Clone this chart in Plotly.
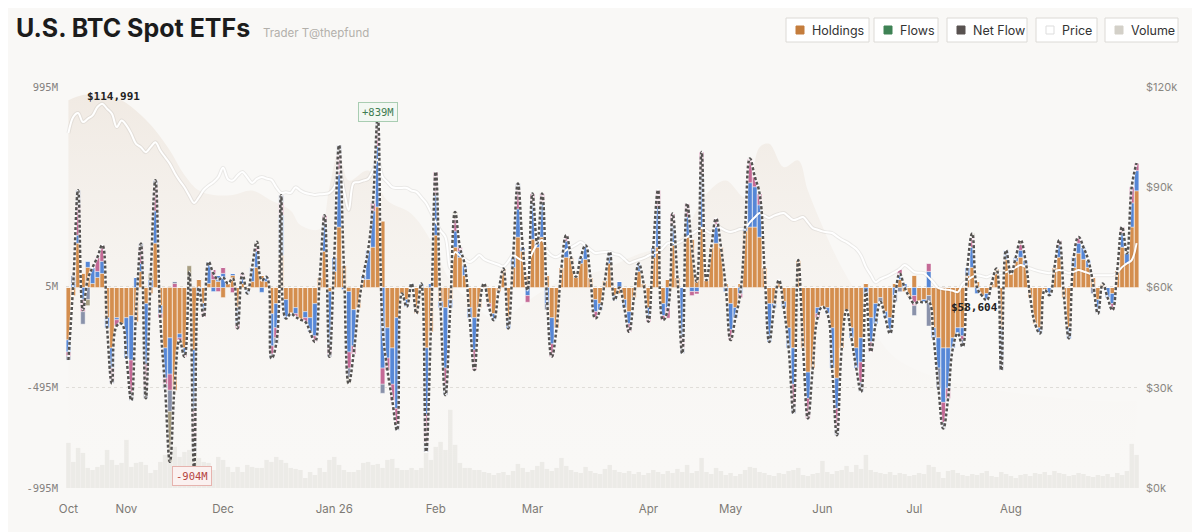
import plotly.graph_objects as go

# --- data -------------------------------------------------------------------
# one entry per trading day, Oct .. Aug
month_labels = ["Oct", "Nov", "Dec", "Jan 26", "Feb", "Mar", "Apr", "May", "Jun", "Jul", "Aug"]
month_start_day = [0, 12, 32, 55, 76, 96, 120, 137, 156, 175, 195]

# daily flows per issuer, $M
ibit = [
    -260, -40, 220, 70, 100, 20, 50, 70, -150, -300, -150, -180, -150, -140, -170, 80, -80, -30, 220, -90,
    -300, -250, -510, -230, -300, 0, -310, 40, -80, 20, 40, 30, -50, 20, 60, -100, 20, -10, 30, 100,
    60, 30, -130, -80, 160, -60, -130, -100, -160, -120, -150, -80, 50, 180, -20, 80, 300, 110, -20, -110,
    -100, 40, 40, 200, 400, 330, -200, -300, -150, -30, -60, 0, -129, 0, -300, -220, 260, -70, -100, -60,
    200, 150, 60, -100, -150, -100, 20, -80, -130, -20, 94, -150, 100, 250, 180, 60, 240, 200, 250, 60,
    -150, -200, 100, 150, 150, 53, 120, 140, 50, -60, -80, 36, 120, -40, -30, -60, -120, -50, 80, 20,
    -100, 150, 200, -80, 40, 210, 50, 0, 250, 240, 60, 300, 36, 200, 220, 202, 20, -80, -100, 20,
    280, 300, 300, 250, 100, -80, -80, 36, -70, -200, -300, 136, -300, -420, -400, -100, -96, -100, -200, -450,
    -300, -112, -200, -300, -250, 20, -150, -80, -50, -120, -150, 20, 40, -20, -46, 60, -70, -60, -40, -200,
    -250, -300, -300, -250, -200, -200, 60, 100, 30, -40, -30, 20, 94, -200, 140, 69, 130, 150, 110, -50,
    -180, -200, -13, 0, 100, 150, -50, -200, 100, 170, 140, 100, 50, -60, 20, 0, -30, 86, 200, 120,
    300, 480,
]
fbtc = [
    -60, 20, 40, -60, 30, 80, 30, 60, -50, -100, -10, 0, -200, -220, 50, 40, -300, 40, 160, -40,
    -150, -180, 0, -20, -30, 0, -300, -30, -30, 107, -20, 30, 70, 0, 10, -80, 30, -20, 70, 80,
    -24, 23, -160, -120, 200, -94, 0, -30, 0, -30, -70, -160, 0, 140, -270, 70, 260, -10, -300, -180,
    0, 20, 145, 180, 300, -400, -150, -180, -450, 0, -36, 20, 0, 20, -330, 20, 200, -30, -300, -40,
    80, 30, 51, -50, -160, 0, 0, 0, -32, 0, 0, -53, 50, 140, 20, -40, 180, 18, 170, -80,
    -130, 0, 0, 80, 0, 0, 30, 70, 0, -60, -32, 0, 57, -23, 30, -40, -60, 0, 39, 0,
    -50, 50, 200, -60, -100, 100, 0, -250, 100, -20, -20, 260, 0, 0, 80, 0, -20, -130, -50, -30,
    20, 220, 200, 160, 0, -190, -20, 0, -30, -100, -180, 0, 0, -130, 0, -30, 0, -29, -200, -150,
    0, 0, -50, -100, -120, -33, -120, -100, 0, -30, -60, -40, 20, 20, 0, -40, 0, -15, 80, -50,
    -150, -270, -200, -50, -28, -40, 40, 100, -30, 0, -33, 0, 0, -150, 45, 0, 20, 35, 26, 0,
    0, -28, 0, -38, 0, 60, 0, -53, 52, 50, 60, 36, 0, -50, 0, -50, -50, 0, 70, 49,
    120, 100,
]
arkb = [
    -20, 0, 150, -60, 0, 0, 70, 80, 0, -60, -30, 0, 0, -160, 0, 80, -120, 0, 120, -20,
    -30, -80, 20, -11, -14, 0, -150, 0, -36, 0, 50, -20, 30, 0, -25, -23, 20, 0, 0, 20,
    0, 0, -40, -50, 60, 0, 0, -16, 0, -20, 0, -30, 0, 39, -40, 0, 100, 0, -80, -40,
    0, 0, 0, 40, 90, -80, -60, -80, -80, 0, 0, 0, 0, 0, -140, 0, 114, 0, -80, 0,
    60, 20, 0, 0, -100, 0, 0, -16, 0, 0, 0, 0, 0, 96, 0, -33, 46, 0, 46, 0,
    -64, 0, 0, 30, 0, 0, 0, 0, 0, -34, 0, 0, 0, 0, 0, 0, -40, 0, 0, 0,
    -20, 0, 83, -22, -52, 57, 0, -50, 67, -20, -12, 113, 0, 0, 42, 0, 0, -51, 0, -20,
    0, 120, 50, 56, 0, 0, 0, 0, 0, 0, -100, 0, 0, -100, 0, -20, 0, 0, 0, -100,
    0, 0, 0, 0, -100, 0, -49, 0, 0, 0, 0, 0, 30, 0, 0, -50, 0, 0, 40, 0,
    0, -100, -50, 0, 0, -20, 0, 50, 0, 0, 0, 0, 0, 0, 0, 0, 0, 30, 0, 0,
    0, 0, 0, 0, 0, 25, 0, 0, 0, 31, 0, 0, 0, 0, 0, 0, -32, 0, 31, 0,
    80, 38,
]
bitb = [
    -20, 40, 73, -62, -60, 0, 0, 0, 0, -16, 0, 0, 0, -40, 0, 18, -50, 0, 32, 0,
    -20, -105, 10, 0, 0, -30, -60, -10, 0, 0, 0, 0, 0, 0, 0, 0, 0, 0, 0, 0,
    0, 0, -22, -28, 38, 0, 0, 0, 0, 0, 0, 0, 0, 0, -14, 0, 46, 0, -46, 0,
    0, 0, 0, 0, 49, -45, 0, 0, -28, 0, 0, 0, 0, 0, -45, 0, 0, 0, -54, 0,
    0, 0, 0, 0, 0, 0, 0, 0, 0, 0, 0, 0, 0, 30, 0, 0, 0, 0, 0, -30,
    0, 0, 0, 0, 0, 0, 0, 0, 0, 0, 0, 0, 0, 0, 0, 0, 0, 0, 0, 0,
    0, 0, 0, 0, 0, 0, 0, -27, 0, 0, 0, 0, 0, 0, 0, 0, 0, 0, 0, 0,
    0, 0, 0, 0, 0, 0, 0, 0, 0, 0, -45, 0, 0, 0, 0, 0, 0, 0, 0, -33,
    0, 0, 0, 0, -48, 0, 0, 0, -21, 0, -18, -30, -21, 0, 0, -49, 0, 0, -151, 0,
    -100, -30, 0, 0, 0, -34, 0, 0, 0, 0, 0, 0, 0, -60, 0, 0, 0, 0, 0, 0,
    0, 0, 0, 0, 0, 0, 0, 0, 0, 0, 0, 0, -30, -19, 0, 0, 0, 0, 0, 0,
    0, 0,
]
gbtc = [
    0, 0, 0, 0, -30, 0, 0, 0, 0, 0, 0, 0, 0, 0, 0, 0, 0, 30, 0, 0,
    0, -250, 0, 0, 0, 108, -84, 0, 0, 0, 0, 0, 0, 0, 0, 0, 0, 0, 0, 27,
    0, 0, 0, 0, 0, 0, 0, 0, 0, 0, 0, 0, 0, 0, 0, 0, 0, 0, -30, 0,
    0, 0, 0, 0, 0, 0, 0, 0, 0, 0, 0, 0, 0, 0, 0, 0, 0, 0, 0, 0,
    35, 0, 0, 0, 0, 0, 0, 0, 0, 0, 0, 0, 0, 0, 0, 0, 0, 0, 0, 0,
    0, 0, 0, 0, 0, 0, 0, 0, 0, 0, 0, 0, 0, 0, 0, 0, 0, 0, 0, 0,
    0, 0, 0, 0, 0, 0, 0, 0, 0, 0, 0, 0, 0, 0, 0, 0, 0, 0, 0, 0,
    0, 0, 0, 0, 0, 0, 0, 0, 0, 0, 0, 0, 0, 0, 0, 0, 0, 0, 0, 0,
    0, 0, 0, 0, 0, 0, 0, 0, 0, 0, 0, 0, 0, 0, 0, 0, 0, 0, 0, 0,
    0, 0, 0, 0, 0, 0, 0, 18, 0, 0, 0, 0, 0, 0, 0, 0, 0, 20, 0, 0,
    0, 0, 0, 0, 0, 0, 0, 0, 0, 0, 0, 0, 0, 0, 0, 0, 0, 0, 0, 0,
    0, 0,
]

# BTC close, $k
price_k = [
    106.2, 111.0, 112.2, 109.5, 110.5, 111.5, 114.0, 114.991, 113.5, 112.0, 108.0, 110.0, 108.5, 106.0, 103.0, 102.0,
    100.5, 102.0, 103.5, 101.0, 99.0, 97.0, 94.3, 92.0, 90.0, 87.5, 85.3, 87.0, 89.2, 90.5, 91.5, 93.0,
    95.8, 92.5, 92.0, 93.5, 94.6, 93.0, 91.3, 92.5, 93.1, 92.6, 92.2, 90.0, 88.3, 88.5, 88.3, 90.0,
    89.0, 88.3, 88.0, 87.7, 87.9, 88.0, 88.3, 90.0, 95.2, 89.0, 83.2, 91.3, 91.5, 92.0, 92.5, 95.0,
    98.2, 93.1, 91.5, 90.0, 89.8, 89.8, 89.8, 89.0, 88.6, 87.0, 85.3, 82.5, 79.6, 77.0, 75.1, 65.8,
    70.6, 69.5, 68.5, 67.6, 68.5, 69.7, 68.5, 67.8, 67.3, 66.8, 66.3, 67.8, 69.7, 68.8, 68.0, 67.6,
    70.5, 73.0, 74.2, 71.0, 69.5, 69.1, 70.0, 71.2, 72.0, 72.8, 73.6, 72.5, 71.3, 70.3, 70.5, 70.6,
    70.6, 70.0, 69.7, 68.5, 67.3, 67.8, 68.3, 68.8, 69.5, 70.2, 70.6, 71.8, 73.3, 73.3, 73.3, 74.0,
    75.1, 76.0, 77.0, 77.8, 77.0, 76.3, 78.7, 77.8, 77.0, 76.6, 77.0, 77.5, 77.8, 79.5, 81.0, 82.3,
    81.5, 80.8, 81.5, 82.0, 82.3, 81.2, 80.2, 80.6, 81.1, 79.5, 77.8, 77.3, 76.8, 76.5, 76.3, 75.3,
    74.3, 73.6, 72.6, 71.5, 69.5, 66.1, 63.8, 61.6, 62.5, 63.1, 63.8, 64.6, 65.5, 66.7, 65.8, 64.6,
    64.4, 64.3, 63.0, 61.5, 59.8, 59.5, 59.3, 59.0, 58.604, 61.0, 62.2, 63.2, 63.7, 63.4, 63.1, 63.7,
    64.3, 64.4, 64.6, 65.2, 66.0, 66.7, 66.2, 65.7, 65.2, 64.8, 64.5, 64.3, 64.8, 65.2, 64.8, 64.3,
    64.7, 65.2, 64.8, 64.3, 63.7, 63.7, 63.7, 63.7, 63.7, 64.5, 66.1, 67.2, 68.2, 73.3,
]

# daily traded volume, $B
volume_b = [
    4.5, 2.6, 4.0, 3.5, 2.0, 1.8, 2.1, 2.3, 3.8, 2.8, 2.3, 2.5, 4.8, 2.1, 2.5, 2.6, 2.3, 1.5, 1.8, 2.6,
    3.3, 2.9, 4.1, 3.1, 3.6, 3.8, 6.0, 3.0, 2.6, 2.5, 1.8, 3.1, 2.8, 2.1, 1.6, 2.1, 1.6, 2.3, 2.1, 2.0,
    2.0, 2.8, 2.6, 3.1, 2.8, 2.5, 2.0, 1.9, 1.8, 1.0, 1.6, 1.3, 2.0, 1.6, 2.8, 3.1, 2.3, 1.8, 1.6, 1.6,
    1.8, 2.5, 2.6, 2.3, 2.4, 2.0, 2.8, 2.9, 2.0, 1.8, 1.8, 2.0, 1.8, 2.0, 3.5, 2.8, 4.1, 4.6, 3.8, 7.8,
    4.3, 2.5, 2.0, 2.0, 1.8, 1.8, 1.6, 1.5, 1.3, 1.5, 1.6, 1.3, 1.7, 2.4, 2.0, 1.6, 1.8, 2.2, 2.6, 1.9,
    1.7, 2.0, 3.0, 2.2, 1.8, 1.6, 1.5, 2.1, 1.7, 1.5, 1.4, 1.9, 2.3, 1.8, 1.6, 1.5, 1.7, 1.4, 1.6, 1.3,
    1.5, 1.8, 1.6, 1.4, 1.7, 1.5, 1.9, 1.6, 2.3, 1.5, 1.7, 3.0, 1.6, 1.4, 2.0, 1.7, 1.3, 1.5, 1.2, 1.4,
    1.8, 2.1, 2.0, 1.6, 1.5, 1.3, 1.2, 1.5, 1.4, 1.7, 1.8, 2.0, 1.3, 1.2, 1.4, 1.5, 2.7, 1.6, 1.4, 1.7,
    1.8, 2.2, 1.6, 2.3, 1.9, 3.3, 1.8, 1.6, 1.5, 1.4, 1.6, 1.3, 1.5, 1.4, 1.2, 1.3, 1.5, 1.4, 2.3, 2.1,
    1.6, 1.0, 1.7, 1.8, 1.5, 1.3, 1.2, 1.4, 1.3, 1.5, 1.7, 1.2, 1.1, 1.6, 1.4, 1.2, 1.0, 1.3, 1.4, 1.2,
    1.5, 1.4, 1.6, 1.3, 1.7, 1.5, 1.4, 1.2, 1.3, 1.5, 1.4, 1.2, 1.1, 1.3, 1.2, 1.4, 1.1, 1.5, 1.3, 1.7,
    4.4, 3.3,
]

# total holdings value (background area), sampled days, $k
holdings_day = [0, 3, 7, 11, 15, 18, 21, 24, 27, 30, 34, 38, 42, 46, 48, 52, 54, 56, 58, 62,
                66, 71, 75, 79, 83, 89, 95, 102, 110, 118, 126, 132, 136, 140, 143, 145, 148, 151, 153, 157,
                160, 164, 168, 172, 182, 193, 213, 221]
holdings_k = [116, 117.6, 117.6, 116, 111.6, 107, 101, 93.7, 89, 87.7, 87.7, 89, 86, 83, 78.7, 77.5, 90, 101, 92, 95,
              86, 82, 74, 62, 56, 50, 56, 62, 65, 70, 74, 88, 92, 87, 102, 103, 96, 98, 89, 75,
              66, 56, 44, 38, 32, 29, 26, 26]

N = len(ibit)
for arr in (fbtc, arkb, bitb, gbtc, price_k, volume_b):
    assert len(arr) == N, len(arr)
days = list(range(N))
net_flow = [a + b + c + d + e for a, b, c, d, e in zip(ibit, fbtc, arkb, bitb, gbtc)]

# --- helpers: reference pixel -> paper -------------------------------------
# the page body adds an 8px offset, so the figure is drawn 8px smaller
OFF = 8
W, H = 1200 - OFF, 532 - OFF
L, R, T, B = 66, 1139, 87, 488   # plot area in screenshot pixels


def px(x):
    return (x - L) / (R - L)


def py(y):
    return (B - y) / (B - T)


SANS = "Inter, Noto Sans, sans-serif"
MONO = "DejaVu Sans Mono, monospace"
BG = "#f9f8f6"

fig = go.Figure()

# volume at the very back
fig.add_trace(go.Bar(x=days, y=volume_b, yaxis="y", marker=dict(color="rgba(200,196,188,0.26)", line_width=0),
                     hoverinfo="skip"))

# holdings area
fig.add_trace(go.Scatter(
    x=holdings_day, y=holdings_k, yaxis="y2", mode="lines", line=dict(width=0, shape="spline"),
    fill="tozeroy",
    fillgradient=dict(type="vertical", start=0, stop=120,
                      colorscale=[[0, "rgba(249,248,246,0)"], [0.45, "rgba(236,226,216,0.15)"],
                                  [1, "rgba(228,214,200,0.42)"]]),
    hoverinfo="skip"))

issuers = [
    ("IBIT", ibit, "#d48e4e"),
    ("FBTC", fbtc, "#5687d6"),
    ("ARKB", arkb, "#c46a96"),
    ("BITB", bitb, "#8a92aa"),
    ("GBTC", gbtc, "#a89e82"),
]
for name, vals, col in issuers:
    fig.add_trace(go.Bar(x=days, y=vals, name=name, yaxis="y3",
                         marker=dict(color=col, line=dict(color="rgba(255,255,255,0.8)", width=0.5))))

# price line
fig.add_trace(go.Scatter(x=days, y=price_k, yaxis="y4", mode="lines",
                         line=dict(color="rgba(0,0,0,0.06)", width=4, shape="spline"), hoverinfo="skip"))
fig.add_trace(go.Scatter(x=days, y=price_k, yaxis="y4", mode="lines", name="Price",
                         line=dict(color="#ffffff", width=2, shape="spline")))

# net flow
fig.add_trace(go.Scatter(x=days, y=net_flow, yaxis="y5", mode="lines",
                         line=dict(color="rgba(255,255,255,0.85)", width=2.8, shape="spline", smoothing=1.25),
                         hoverinfo="skip"))
fig.add_trace(go.Scatter(x=days, y=net_flow, yaxis="y5", mode="lines", name="Net Flow",
                         line=dict(color="#545250", width=2.5, shape="spline", smoothing=1.25, dash="3px,2px")))

# --- annotations ----------------------------------------------------------
ann = [
    dict(x=px(14), y=py(28), xref="paper", yref="paper", xanchor="left", yanchor="middle",
         text="<b>U.S. BTC Spot ETFs</b>", showarrow=False, font=dict(family=SANS, size=25, color="#1c1c1c")),
    dict(x=px(261), y=py(33), xref="paper", yref="paper", xanchor="left", yanchor="middle",
         text="Trader T@thepfund", showarrow=False, font=dict(family=SANS, size=11.5, color="#b3b0ab")),
]

imax = price_k.index(max(price_k))
imin = price_k.index(min(price_k))
ann.append(dict(x=imax, y=py(88), xref="x", yref="paper", xshift=11, text="<b>$114,991</b>", showarrow=False,
                font=dict(family=MONO, size=11, color="#222")))
ann.append(dict(x=imin, y=py(307), xref="x", yref="paper", xshift=17, text="<b>$58,604</b>", showarrow=False,
                font=dict(family=MONO, size=11, color="#222")))

ipk = net_flow.index(max(net_flow))
itr = net_flow.index(min(net_flow))
ann.append(dict(x=ipk, y=py(102), xref="x", yref="paper", text="+839M", showarrow=False,
                font=dict(family=MONO, size=10.5, color="#3f7d52"), bgcolor="#f3f8f3",
                bordercolor="#a9cdb2", borderwidth=1, borderpad=3))
ann.append(dict(x=itr, y=py(486), xref="x", yref="paper", xshift=-2, text="-904M", showarrow=False,
                font=dict(family=MONO, size=10.5, color="#b5443f"), bgcolor="#fbf1f0",
                bordercolor="#e6b3ae", borderwidth=1, borderpad=3))

# legend buttons
shapes = []
buttons = [
    ("Holdings", "#c47d3c", 786, 869),
    ("Flows", "#3e8255", 874, 938),
    ("Net Flow", "#585250", 947, 1027),
    ("Price", "#ffffff", 1036, 1097),
    ("Volume", "#d3d0c8", 1105, 1178),
]
for label, col, x0, x1 in buttons:
    shapes.append(dict(type="rect", xref="paper", yref="paper", x0=px(x0), x1=px(x1), y0=py(42), y1=py(18),
                       fillcolor="#ffffff", line=dict(color="#dcdad6", width=1)))
    shapes.append(dict(type="rect", xref="paper", yref="paper", x0=px(x0 + 10), x1=px(x0 + 18),
                       y0=py(34), y1=py(26), fillcolor=col,
                       line=dict(color="#dddddd" if col == "#ffffff" else col, width=1)))
    ann.append(dict(x=px(x0 + 24), y=py(30), xref="paper", yref="paper", xanchor="left", yanchor="middle",
                    text=label, showarrow=False, font=dict(family=SANS, size=12.5, color="#333")))

fig.update_layout(
    width=W, height=H,
    margin=dict(l=L - OFF, r=W - (R - OFF), t=T - OFF, b=H - (B - OFF), autoexpand=False),
    paper_bgcolor=BG, plot_bgcolor=BG,
    showlegend=False,
    barmode="relative", bargap=0.08,
    annotations=ann, shapes=shapes,
    xaxis=dict(range=[-0.5, N - 0.5], tickvals=month_start_day, ticktext=month_labels,
               showgrid=False, zeroline=False, showline=False, ticks="", automargin=False,
               tickfont=dict(family=SANS, size=11.5, color="#7d7a75"), ticklabelstandoff=12),
    yaxis=dict(range=[0, 40], visible=False, fixedrange=True),
    yaxis2=dict(range=[0, 120], overlaying="y", visible=False),
    yaxis3=dict(range=[-995, 995], overlaying="y", side="left", automargin=False,
                tickvals=[995, 5, -495, -995], ticktext=["995M", "5M", "-495M", "-995M"],
                showgrid=True, gridcolor="#dedcd8", griddash="dot", gridwidth=1, zeroline=False,
                ticks="", ticklabelstandoff=7, tickfont=dict(family=MONO, size=10.5, color="#858280")),
    yaxis4=dict(range=[0, 120], overlaying="y", side="right", automargin=False,
                tickvals=[0, 30, 60, 90, 120], ticktext=["$0k", "$30k", "$60k", "$90k", "$120k"],
                showgrid=False, zeroline=False, ticks="", ticklabelstandoff=6,
                tickfont=dict(family=SANS, size=11, color="#8a8782")),
    yaxis5=dict(range=[-995, 995], overlaying="y", visible=False),
)

fig.write_html("out.html")
